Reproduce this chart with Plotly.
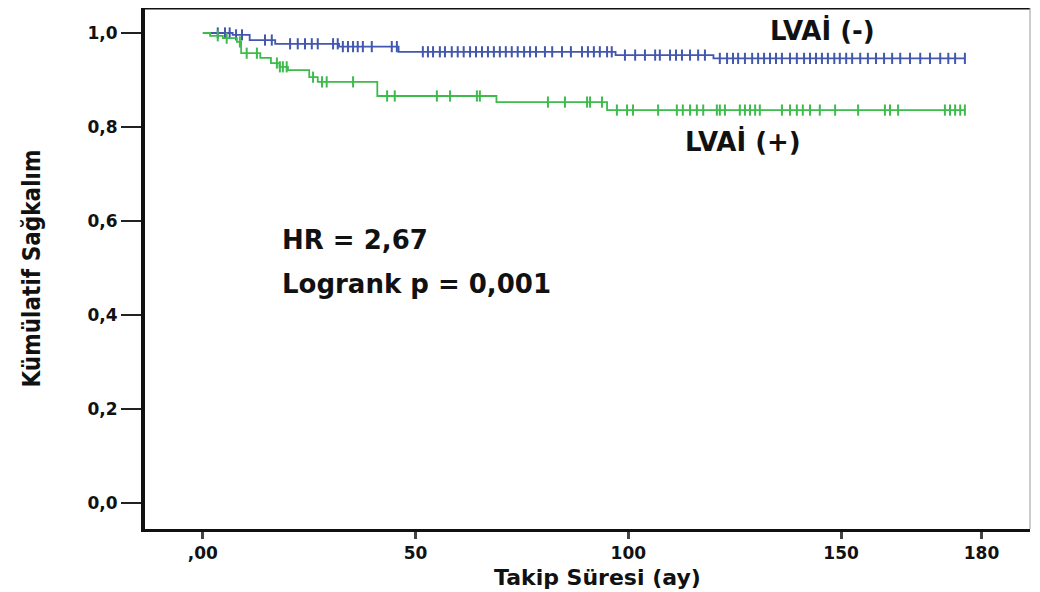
import numpy as np
import plotly.graph_objects as go

# ---- data ----
neg_name = "LVAİ (-)"
pos_name = "LVAİ (+)"

neg_event_times = [0, 7, 11, 17, 32, 46, 97, 120]
neg_surv = [1.0, 0.996, 0.985, 0.977, 0.971, 0.960, 0.953, 0.946]
neg_end = 179.1
neg_censor = [3.5, 5.2, 6.3, 7.8, 9.2, 14.6, 16.2, 20.5, 22.3, 24.0, 25.6, 27.0,
              30.6, 31.7, 32.9, 34.1, 35.3, 36.4, 37.6, 39.7, 44.4, 45.6,
              51.7, 52.9, 54.1, 55.7, 56.9, 58.5, 59.9, 61.3, 62.8, 64.2, 65.6,
              67.0, 68.4, 69.8, 71.2, 72.6, 74.0, 75.5, 76.9, 78.3, 80.4, 82.1,
              84.4, 86.5, 89.1, 90.5, 91.9, 93.3, 95.0, 96.1,
              99.2, 101.6, 103.9, 106.3, 107.4, 109.8, 111.2, 112.6, 114.5, 116.4, 118.0,
              121.5, 123.2, 124.6, 125.8, 127.4, 129.1, 130.5, 131.9, 133.3, 134.7,
              136.1, 138.0, 139.6, 141.3, 142.7, 144.1, 145.5, 146.9, 148.4, 149.7,
              151.2, 152.6, 154.5, 156.3, 158.2, 160.1, 162.0, 163.9, 166.2, 168.6,
              170.9, 173.3, 175.2, 176.8, 179.1]

pos_event_times = [0, 1.7, 4.7, 8, 9, 13.5, 16, 18, 20, 25, 27, 41, 69, 95]
pos_surv = [1.0, 0.994, 0.989, 0.981, 0.957, 0.947, 0.936, 0.928, 0.921,
            0.906, 0.896, 0.866, 0.853, 0.836]
pos_end = 179.1
pos_censor = [3.5, 5.6, 8.7, 10.3, 12.7, 17.4, 18.1, 18.8, 19.7, 25.9, 28.0, 29.1,
              35.3, 43.3, 45.1, 55.0, 58.1, 64.4, 65.1, 81.1, 85.1, 90.3, 91.0,
              93.8, 97.3, 99.7, 101.1, 107.0, 111.4, 112.8, 114.5, 116.1, 117.6,
              120.8, 121.5, 122.7, 126.2, 127.4, 128.6, 129.8, 130.9, 136.1, 138.0,
              139.6, 141.0, 142.7, 145.0, 148.6, 154.0, 160.3, 161.5, 163.4, 174.4,
              175.6, 176.8, 178.0, 179.1]

x_tickvals = [0, 50, 100, 150, 183]
x_ticktext = [",00", "50", "100", "150", "180"]
y_tickvals = [0.0, 0.2, 0.4, 0.6, 0.8, 1.0]
y_ticktext = ["0,0", "0,2", "0,4", "0,6", "0,8", "1,0"]

hr_text = "HR = 2,67"
p_text = "Logrank p = 0,001"
x_title = "Takip Süresi (ay)"
y_title = "Kümülatif Sağkalım"

BLUE = "#4257AE"
GREEN = "#3EBB4C"


def surv_at(times, surv, t):
    idx = np.searchsorted(np.array(times), np.array(t), side="right") - 1
    return list(np.array(surv)[idx])


fig = go.Figure()
for times, surv, end, cens, col, name in [
    (neg_event_times, neg_surv, neg_end, neg_censor, BLUE, neg_name),
    (pos_event_times, pos_surv, pos_end, pos_censor, GREEN, pos_name),
]:
    fig.add_trace(go.Scatter(
        x=list(times) + [end], y=list(surv) + [surv[-1]],
        mode="lines", line=dict(shape="hv", color=col, width=1.8),
        name=name, showlegend=False, hoverinfo="skip"))
    fig.add_trace(go.Scatter(
        x=cens, y=surv_at(times, surv, cens), mode="markers",
        marker=dict(symbol="line-ns", size=8, line=dict(width=2, color=col)),
        name=name + " censored", showlegend=False))

ann_font = dict(family="DejaVu Sans, Arial", size=26, color="#111111")
fig.add_annotation(x=18.1, y=0.56, text="<b>" + hr_text + "</b>", showarrow=False,
                   xanchor="left", yanchor="middle", font=ann_font)
fig.add_annotation(x=18.1, y=0.466, text="<b>" + p_text + "</b>", showarrow=False,
                   xanchor="left", yanchor="middle", font=ann_font)
fig.add_annotation(x=132.8, y=1.006, text="<b>" + neg_name + "</b>", showarrow=False,
                   xanchor="left", yanchor="middle", font=ann_font)
fig.add_annotation(x=112.8, y=0.770, text="<b>" + pos_name + "</b>", showarrow=False,
                   xanchor="left", yanchor="middle", font=ann_font)
# x-axis title placed explicitly
fig.add_annotation(x=0.511, y=-0.094, xref="paper", yref="paper",
                   text="<b>" + x_title + "</b>", showarrow=False,
                   xanchor="center", yanchor="middle",
                   font=dict(family="DejaVu Sans", size=22, color="#111111"))

tick_font = dict(family="DejaVu Sans", size=17, color="#111111", weight="bold")

# page has an 8px body margin, so the figure is offset by 8px
fig.update_layout(
    width=1024, height=584,
    margin=dict(l=137, r=2, t=0, b=63, autoexpand=False),
    plot_bgcolor="white", paper_bgcolor="white",
    xaxis=dict(
        range=[-13.6, 194.4], tickvals=x_tickvals, ticktext=x_ticktext,
        showgrid=False, zeroline=False, showline=True, linewidth=3, linecolor="#111111",
        ticks="outside", ticklen=7, tickwidth=2.5, tickcolor="#444444",
        tickfont=tick_font, automargin=False,
    ),
    yaxis=dict(
        range=[-0.0553, 1.0532], tickvals=y_tickvals, ticktext=y_ticktext,
        showgrid=False, zeroline=False, showline=True, linewidth=4, linecolor="#111111",
        ticks="outside", ticklen=20, tickwidth=1.5, tickcolor="#222222",
        tickfont=tick_font, automargin=False,
        title=dict(text="<b>" + y_title + "</b>", standoff=41,
                   font=dict(family="DejaVu Sans Condensed, DejaVu Sans", size=24,
                             color="#111111")),
    ),
    shapes=[
        dict(type="line", xref="paper", yref="paper", x0=0, x1=1, y0=1, y1=1,
             line=dict(color="#111111", width=3)),
        dict(type="line", xref="paper", yref="paper", x0=1, x1=1, y0=0, y1=1,
             line=dict(color="#999999", width=1)),
    ],
)

fig.write_html("out.html")
